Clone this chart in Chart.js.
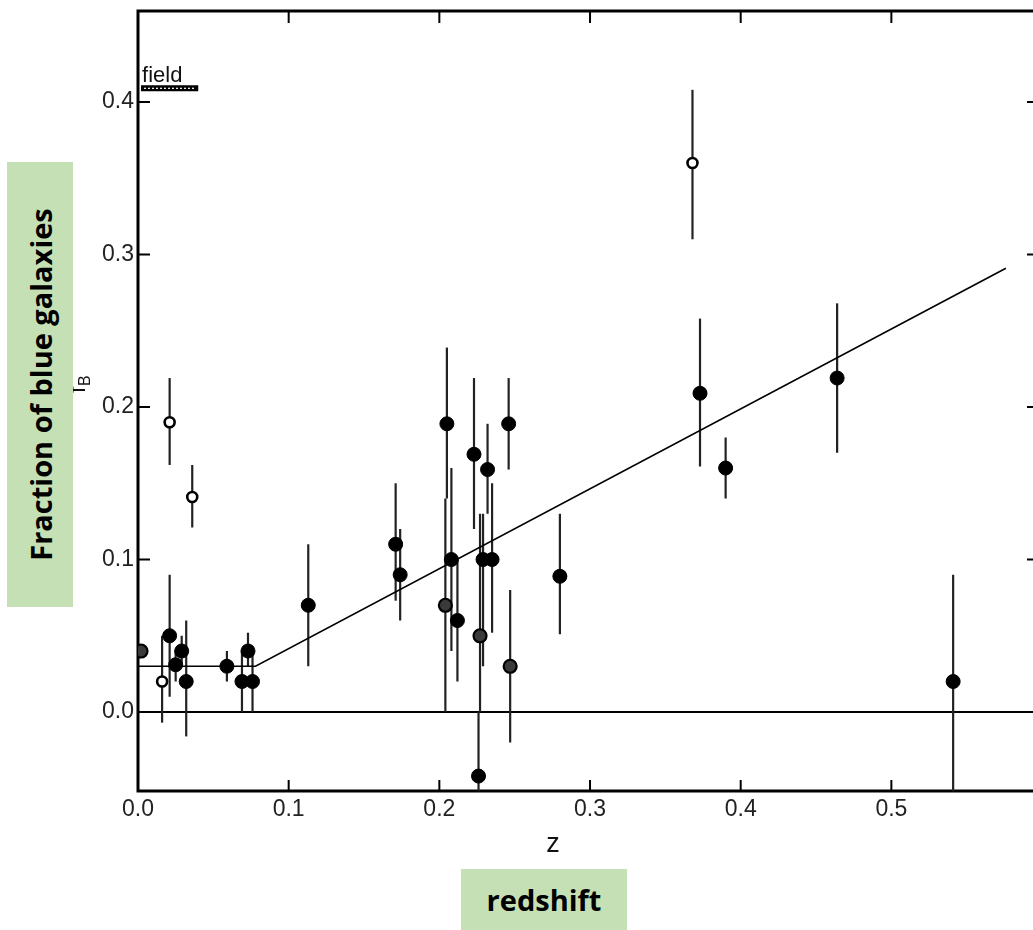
<!DOCTYPE html>
<html>
<head>
<meta charset="utf-8">
<script src="https://cdn.jsdelivr.net/npm/chart.js@4.4.1/dist/chart.umd.min.js"></script>
<style>
  html, body { margin: 0; padding: 0; background: #fff; }
  #wrap { position: relative; width: 1033px; height: 930px; overflow: hidden; }
  canvas { position: absolute; left: 0; top: 0; }
  .gbox { position: absolute; background: #c5e0b4; font-family: "Open Sans", "Noto Sans", sans-serif; font-weight: 700; color: #000; display: flex; align-items: center; justify-content: center; }
  #ybox { left: 7px; top: 162px; width: 66px; height: 445px; }
  #ybox span { transform: rotate(-90deg); white-space: nowrap; font-size: 29px; display: block; }
  #xbox { left: 461px; top: 869px; width: 166px; height: 61px; font-size: 29px; }
</style>
</head>
<body>
<div id="wrap">
  <canvas id="c" width="1033" height="930"></canvas>
  <div class="gbox" id="ybox"><span>Fraction of blue galaxies</span></div>
  <div class="gbox" id="xbox">redshift</div>
</div>
<script>
// ---- data ----
// filled circles
const filledZ  = [0.021, 0.025, 0.029, 0.032, 0.059, 0.069, 0.073, 0.076, 0.113, 0.171, 0.174, 0.205, 0.208, 0.212, 0.223, 0.226, 0.229, 0.232, 0.235, 0.246, 0.280, 0.373, 0.390, 0.464, 0.541];
const filledF  = [0.050, 0.031, 0.040, 0.020, 0.030, 0.020, 0.040, 0.020, 0.070, 0.110, 0.090, 0.189, 0.100, 0.060, 0.169, -0.042, 0.100, 0.159, 0.100, 0.189, 0.089, 0.209, 0.160, 0.219, 0.020];
const filledLo = [0.010, 0.020, 0.030, -0.016, 0.020, 0.000, 0.030, 0.000, 0.030, 0.073, 0.060, 0.140, 0.040, 0.020, 0.120, -0.052, 0.030, 0.130, 0.052, 0.159, 0.051, 0.161, 0.140, 0.170, -0.052];
const filledHi = [0.090, 0.040, 0.050, 0.060, 0.040, 0.040, 0.052, 0.040, 0.110, 0.150, 0.120, 0.239, 0.160, 0.100, 0.219, 0.000, 0.130, 0.189, 0.150, 0.219, 0.130, 0.258, 0.180, 0.268, 0.090];
// open circles
const openZ  = [0.016, 0.021, 0.036, 0.368];
const openF  = [0.020, 0.190, 0.141, 0.360];
const openLo = [-0.007, 0.162, 0.121, 0.310];
const openHi = [0.050, 0.219, 0.162, 0.408];
// circled dots
const dotZ  = [0.002, 0.204, 0.227, 0.247];
const dotF  = [0.040, 0.070, 0.050, 0.030];
const dotLo = [0.040, 0.000, 0.000, -0.020];
const dotHi = [0.040, 0.140, 0.130, 0.080];
// fitted relation
const fitZ = [0.000, 0.078, 0.576];
const fitF = [0.030, 0.030, 0.291];
// field value
const fieldZ = [0.002, 0.040];
const fieldF = 0.409;
// axes
const xTicks = [0.0, 0.1, 0.2, 0.3, 0.4, 0.5];
const yTicks = [0.0, 0.1, 0.2, 0.3, 0.4];
const xMin = 0, xMax = 0.594, yMin = -0.0518, yMax = 0.4597;

const pts = (xs, ys) => xs.map((x, i) => ({ x: x, y: ys[i] }));

const errorBars = {
  id: 'errorBars',
  beforeDatasetsDraw(chart) {
    const { ctx, scales: { x, y }, chartArea: a } = chart;
    ctx.save();
    // frame
    ctx.strokeStyle = '#000';
    ctx.lineWidth = 3;
    ctx.strokeRect(a.left, a.top, a.right - a.left + 4, a.bottom - a.top);
    // inside ticks
    ctx.lineWidth = 2;
    xTicks.forEach(v => {
      const px = x.getPixelForValue(v);
      ctx.beginPath();
      ctx.moveTo(px, a.bottom); ctx.lineTo(px, a.bottom - 11);
      ctx.moveTo(px, a.top); ctx.lineTo(px, a.top + 12);
      ctx.stroke();
    });
    yTicks.forEach(v => {
      const py = y.getPixelForValue(v);
      ctx.beginPath();
      ctx.moveTo(a.left, py); ctx.lineTo(a.left + 12, py);
      ctx.moveTo(a.right, py); ctx.lineTo(a.right - 6, py);
      ctx.stroke();
    });
    // zero line
    ctx.lineWidth = 2;
    ctx.beginPath();
    ctx.moveTo(a.left, y.getPixelForValue(0));
    ctx.lineTo(a.right, y.getPixelForValue(0));
    ctx.stroke();
    // error bars
    ctx.strokeStyle = '#222';
    ctx.lineWidth = 2.2;
    const draw = (xs, lo, hi) => xs.forEach((v, i) => {
      if (lo[i] === hi[i]) return;
      const px = x.getPixelForValue(v);
      ctx.beginPath();
      ctx.moveTo(px, y.getPixelForValue(lo[i]));
      ctx.lineTo(px, y.getPixelForValue(hi[i]));
      ctx.stroke();
    });
    draw(filledZ, filledLo, filledHi);
    draw(openZ, openLo, openHi);
    draw(dotZ, dotLo, dotHi);
    // field bar
    const fy = y.getPixelForValue(fieldF);
    const fx0 = x.getPixelForValue(fieldZ[0]), fx1 = x.getPixelForValue(fieldZ[1]);
    ctx.strokeStyle = '#000';
    ctx.lineWidth = 6;
    ctx.beginPath(); ctx.moveTo(fx0, fy); ctx.lineTo(fx1, fy); ctx.stroke();
    ctx.strokeStyle = '#fff';
    ctx.lineWidth = 1.2;
    ctx.setLineDash([2, 2]);
    ctx.beginPath(); ctx.moveTo(fx0 + 3, fy); ctx.lineTo(fx1 - 3, fy); ctx.stroke();
    ctx.setLineDash([]);
    ctx.fillStyle = '#111';
    ctx.font = '22px "Liberation Sans", Arial, sans-serif';
    ctx.textAlign = 'left';
    ctx.textBaseline = 'alphabetic';
    ctx.fillText('field', fx0 + 1, fy - 6);
    // axis titles
    ctx.font = '27px "Liberation Sans", Arial, sans-serif';
    ctx.textAlign = 'center';
    ctx.fillText('z', 553, 852);
    ctx.save();
    ctx.translate(85, 393);
    ctx.rotate(-Math.PI / 2);
    ctx.font = '23px "Liberation Sans", Arial, sans-serif';
    ctx.textAlign = 'left';
    ctx.fillText('f', 0, 0);
    ctx.font = '16px "Liberation Sans", Arial, sans-serif';
    ctx.fillText('B', 7, 5);
    ctx.restore();
    ctx.restore();
  }
};

const tickFont = { size: 23, family: '"Liberation Sans", Arial, sans-serif' };

new Chart(document.getElementById('c'), {
  type: 'scatter',
  data: {
    datasets: [
      { label: 'fit', data: pts(fitZ, fitF), showLine: true, borderColor: '#000', borderWidth: 1.6, pointRadius: 0, fill: false, order: 4 },
      { label: 'filled', data: pts(filledZ, filledF), pointRadius: 7, pointBackgroundColor: '#000', pointBorderColor: '#000', pointBorderWidth: 1, order: 1 },
      { label: 'open', data: pts(openZ, openF), pointRadius: 5, pointBackgroundColor: '#fff', pointBorderColor: '#000', pointBorderWidth: 2.6, order: 2 },
      { label: 'dot', data: pts(dotZ, dotF), pointRadius: 6.5, pointBackgroundColor: '#3a3a3a', pointBorderColor: '#000', pointBorderWidth: 2.2, order: 3 }
    ]
  },
  options: {
    responsive: false,
    animation: false,
    events: [],
    layout: { autoPadding: false, padding: { top: 11, right: 0, left: 0, bottom: 0 } },
    plugins: { legend: { display: false }, tooltip: { enabled: false } },
    scales: {
      x: {
        type: 'linear', min: xMin, max: xMax,
        border: { display: false },
        grid: { display: false, drawTicks: false },
        afterBuildTicks: s => { s.ticks = xTicks.map(v => ({ value: v })); },
        afterFit: s => { s.height = 139; s.paddingLeft = 0; s.paddingRight = 0; s.paddingTop = 0; s.paddingBottom = 0; },
        ticks: { padding: 5, color: '#222', font: tickFont, callback: v => v.toFixed(1) }
      },
      y: {
        type: 'linear', min: yMin, max: yMax,
        border: { display: false },
        grid: { display: false, drawTicks: false },
        afterBuildTicks: s => { s.ticks = yTicks.map(v => ({ value: v })); },
        afterFit: s => { s.width = 138; s.paddingLeft = 0; s.paddingRight = 0; s.paddingTop = 0; s.paddingBottom = 0; },
        ticks: { padding: 4, color: '#222', font: tickFont, callback: v => v.toFixed(1) }
      }
    }
  },
  plugins: [errorBars]
});
</script>
</body>
</html>
